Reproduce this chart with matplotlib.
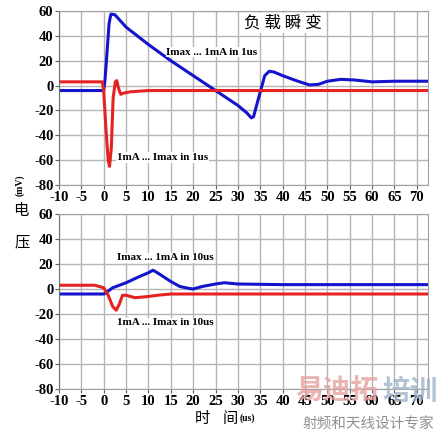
import matplotlib
matplotlib.use("Agg")
import matplotlib.pyplot as plt
import numpy as np

plt.rcParams["axes.unicode_minus"] = False

# ---- data ----
top_blue_t = [-10, -5, 0, 0.3, 0.8, 1.2, 1.6, 2.5, 3, 5, 10, 15, 20, 25, 30, 32, 33, 33.5, 35, 36, 37, 38, 40, 43, 46, 48, 50, 53, 56, 60, 65, 72.5]
top_blue_v = [-4, -4, -4, 5, 30, 50, 57.5, 57, 55, 47, 33, 20, 8, -4, -16, -22, -26, -25, -5, 8, 11.5, 11, 8, 4, 0.5, 1, 3.5, 5, 4.5, 3, 3.5, 3.5]
top_red_t = [-10, -5, -0.3, 0, 0.5, 1, 1.3, 1.7, 2.1, 2.6, 2.9, 3.3, 3.8, 4.5, 6, 10, 20, 40, 72.5]
top_red_v = [3, 3, 3, -5, -35, -60, -65, -50, -10, 3, 4, -2, -7, -6, -5, -4, -4, -4, -4]
bot_blue_t = [-10, -5, 0, 0.5, 2, 5, 8, 10, 11, 12, 15, 17, 19, 20, 22, 25, 27, 30, 40, 50, 60, 72.5]
bot_blue_v = [-4, -4, -4, -3, 1, 5, 10, 13, 15, 13, 6, 2, 0.5, 0, 2, 4, 5, 4, 3.5, 3.5, 3.5, 3.5]
bot_red_t = [-10, -2, 0, 1, 2, 2.8, 3.5, 4.2, 5, 7, 10, 12, 15, 20, 40, 72.5]
bot_red_v = [3, 3, 1, -5, -14, -17, -12, -5, -5, -7, -6, -5, -4, -4, -4, -4]
xticks = [-10, -5, 0, 5, 10, 15, 20, 25, 30, 35, 40, 45, 50, 55, 60, 65, 70]
yticks = [-80, -60, -40, -20, 0, 20, 40, 60]
title = "负载瞬变"
top_labels = ["Imax ... 1mA in 1us", "1mA ... Imax in 1us"]
bot_labels = ["Imax ... 1mA in 10us", "1mA ... Imax in 10us"]

W, H = 446, 433
fig = plt.figure(figsize=(W / 100, H / 100), dpi=100)

def px_axes(l, t, r, b):
    return fig.add_axes([l / W, 1 - b / H, (r - l) / W, (b - t) / H])

serif = ["Liberation Serif", "DejaVu Serif"]
cjk = ["Noto Sans CJK SC", "DejaVu Sans"]

def style(ax):
    ax.set_xlim(-10, 72.5)
    ax.set_ylim(-80, 60)
    ax.set_xticks(xticks)
    ax.set_yticks(yticks)
    ax.grid(True, color="#b4b4b4", lw=1.0)
    ax.set_axisbelow(True)
    for s in ax.spines.values():
        s.set_color("#a0a0a0")
    ax.spines["left"].set_color("#707070")
    ax.tick_params(axis="both", length=3, color="#606060", pad=1)
    for lab in ax.get_xticklabels() + ax.get_yticklabels():
        lab.set_fontfamily(serif)
        lab.set_fontweight("bold")
        lab.set_fontsize(10.5)

def note(ax, x, y, s):
    ax.text(x, y, s, fontfamily=serif, fontweight="bold", fontsize=8,
            ha="left", va="center", bbox=dict(fc="white", ec="none", pad=0.5))

ax1 = px_axes(59, 11, 428, 185)
style(ax1)
ax1.plot(top_blue_t, top_blue_v, color="#1414cc", lw=2.2)
ax1.plot(top_red_t, top_red_v, color="#e42222", lw=2.2)
ax1.text(0.607, 0.93, "负 载 瞬 变", transform=ax1.transAxes, fontfamily=cjk, fontsize=12,
         ha="center", va="center", bbox=dict(fc="white", ec="none", pad=1))
note(ax1, 14, 27, top_labels[0])
note(ax1, 3, -58, top_labels[1])

ax2 = px_axes(59, 214, 428, 389)
style(ax2)
ax2.plot(bot_blue_t, bot_blue_v, color="#1414cc", lw=2.2)
ax2.plot(bot_red_t, bot_red_v, color="#e42222", lw=2.2)
note(ax2, 3, 25, bot_labels[0])
note(ax2, 3, -27, bot_labels[1])

# axis labels
fig.text(20 / W, 1 - 185 / H, "(mV)", fontfamily=serif, fontweight="bold", fontsize=7,
         rotation=90, ha="center", va="center")
fig.text(21 / W, 1 - 211 / H, "电", fontfamily=cjk, fontsize=11, ha="center", va="center")
fig.text(22 / W, 1 - 242 / H, "压", fontfamily=cjk, fontsize=11, ha="center", va="center")
fig.text(202 / W, 1 - 419 / H, "时", fontfamily=cjk, fontsize=11, ha="center", va="center")
fig.text(230 / W, 1 - 419 / H, "间", fontfamily=cjk, fontsize=11, ha="center", va="center")
fig.text(247 / W, 1 - 418 / H, "(us)", fontfamily=serif, fontweight="bold", fontsize=7,
         ha="center", va="center")

# watermark
fig.text(295 / W, 1 - 392 / H, "易迪拓", fontfamily=cjk, fontweight="bold", fontsize=20,
         color="#e8a0a0", alpha=0.8, ha="left", va="center")
fig.text(382 / W, 1 - 392 / H, "培训", fontfamily=cjk, fontweight="bold", fontsize=20,
         color="#9fb2c8", alpha=0.8, ha="left", va="center")
fig.text(368 / W, 1 - 425 / H, "射频和天线设计专家", fontfamily=cjk, fontsize=10.5,
         color="#909090", ha="center", va="center")

fig.savefig("out.png", dpi=100)
